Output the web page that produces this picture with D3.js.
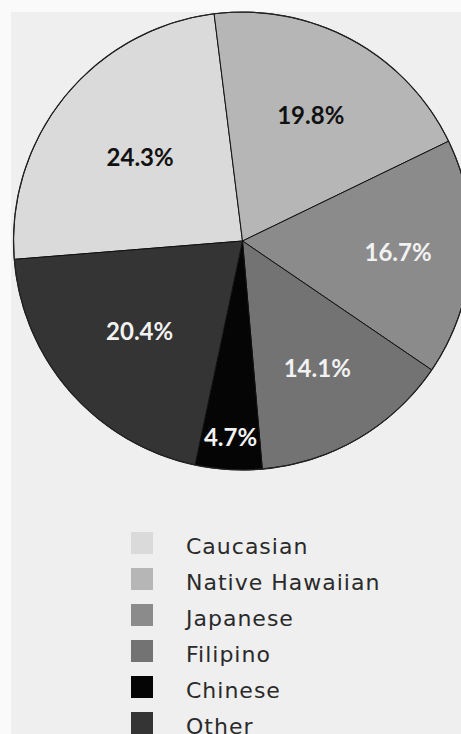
<!DOCTYPE html>
<html>
<head>
<meta charset="utf-8">
<script src="https://cdn.jsdelivr.net/npm/d3@7"></script>
<style>
  html, body { margin: 0; padding: 0; background: #fafafa; }
  svg { display: block; }
</style>
</head>
<body>
<svg id="chart" width="461" height="734"></svg>
<script>
// ---- data ----
const categories = ["Caucasian", "Native Hawaiian", "Japanese", "Filipino", "Chinese", "Other"];
const values = [24.3, 19.8, 16.7, 14.1, 4.7, 20.4];
const labels = ["24.3%", "19.8%", "16.7%", "14.1%", "4.7%", "20.4%"];

// ---- styling / layout (not data) ----
const fills = ["#dadada", "#b6b6b6", "#8b8b8b", "#737373", "#050505", "#343434"];
const labelColors = ["#111111", "#111111", "#f2f2f2", "#f2f2f2", "#f2f2f2", "#f2f2f2"];
const labelRadii = [132, 143, 156, 148, 197, 137];

const W = 461, H = 734;
const cx = 242.5, cy = 241, R = 229;
const svg = d3.select("#chart");

// page background with lighter scan border
svg.append("rect").attr("x", 0).attr("y", 0).attr("width", W).attr("height", H).attr("fill", "#fafafa");
svg.append("rect").attr("x", 11).attr("y", 12).attr("width", W - 11).attr("height", H - 12).attr("fill", "#efefef");

const start = -94.6 * Math.PI / 180;
const pie = d3.pie().sort(null).value(d => d).startAngle(start).endAngle(start + 2 * Math.PI);
const arcs = pie(values);
const arc = d3.arc().innerRadius(0).outerRadius(R);

const g = svg.append("g").attr("transform", `translate(${cx},${cy})`);

g.selectAll("path.slice")
  .data(arcs)
  .enter().append("path")
  .attr("class", "slice")
  .attr("d", arc)
  .attr("fill", (d, i) => fills[i])
  .attr("stroke", "#111")
  .attr("stroke-width", 1)
  .attr("stroke-linejoin", "round");

g.append("circle").attr("r", R).attr("fill", "none").attr("stroke", "#222").attr("stroke-width", 1.2);

g.selectAll("text.lbl")
  .data(arcs)
  .enter().append("text")
  .attr("class", "lbl")
  .attr("x", (d, i) => { const a = (d.startAngle + d.endAngle) / 2; return Math.sin(a) * labelRadii[i]; })
  .attr("y", (d, i) => { const a = (d.startAngle + d.endAngle) / 2; return -Math.cos(a) * labelRadii[i]; })
  .attr("dy", "0.36em")
  .attr("text-anchor", "middle")
  .attr("font-family", "Lato, 'DejaVu Sans', sans-serif")
  .attr("font-weight", "bold")
  .attr("font-size", 24)
  .attr("fill", (d, i) => labelColors[i])
  .text((d, i) => labels[i]);

// ---- legend ----
const legendY = d3.scaleBand().domain(categories).range([518, 518 + 36 * categories.length]);
const lg = svg.append("g");
const rows = lg.selectAll("g.row").data(categories).enter().append("g").attr("class", "row")
  .attr("transform", d => `translate(0,${legendY(d)})`);
rows.append("rect")
  .attr("x", 131).attr("y", 14).attr("width", 22).attr("height", 22)
  .attr("fill", (d, i) => fills[i]);
rows.append("text")
  .attr("x", 186).attr("y", 36)
  .attr("font-family", "'DejaVu Sans', sans-serif")
  .attr("font-size", 22)
  .attr("letter-spacing", 1)
  .attr("fill", "#2a2a2a")
  .text(d => d);
</script>
</body>
</html>
